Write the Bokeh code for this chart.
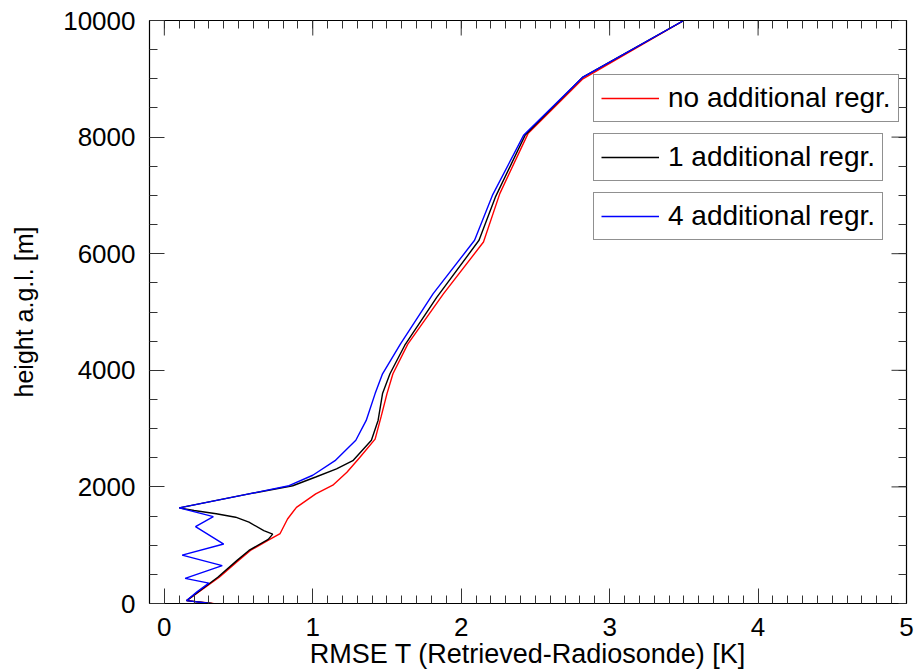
from bokeh.plotting import figure
from bokeh.models import (Range1d, FixedTicker, LinearAxis, Legend, LegendItem)
from bokeh.embed import file_html
from bokeh.resources import INLINE

# ---- data ----
red_x = [0.33, 0.15, 0.37, 0.50, 0.58, 0.71, 0.78, 0.83, 0.89, 1.02, 1.135, 1.23, 1.315,
         1.42, 1.46, 1.50, 1.54, 1.64, 1.88, 2.15, 2.26, 2.45, 2.82, 3.50]
red_h = [0, 50, 450, 740, 910, 1100, 1200, 1450, 1650, 1880, 2030, 2250, 2500,
         2820, 3200, 3600, 3940, 4450, 5310, 6200, 7030, 8060, 9000, 10000]

black_x = [0.32, 0.15, 0.36, 0.49, 0.57, 0.70, 0.73, 0.67, 0.57, 0.48, 0.35, 0.20, 0.10,
           0.57, 0.865, 1.02, 1.16, 1.27, 1.395, 1.44, 1.47, 1.52, 1.62, 1.835, 2.12,
           2.23, 2.43, 2.82, 3.50]
black_h = [0, 50, 450, 740, 910, 1100, 1190, 1250, 1395, 1480, 1540, 1595, 1640,
           1880, 2020, 2170, 2310, 2450, 2800, 3140, 3600, 3940, 4430, 5250, 6230,
           6970, 8030, 9030, 10000]

blue_x = [0.31, 0.15, 0.22, 0.30, 0.14, 0.39, 0.12, 0.40, 0.21, 0.33, 0.10, 0.57, 0.84,
          1.00, 1.15, 1.29, 1.36, 1.42, 1.47, 1.59, 1.81, 2.09, 2.21, 2.42, 2.82, 3.50]
blue_h = [0, 50, 200, 350, 430, 650, 830, 1020, 1320, 1490, 1640, 1880, 2020,
          2200, 2450, 2800, 3140, 3600, 3940, 4450, 5310, 6230, 7000, 8030, 9030, 10000]

labels = ["no additional regr.", "1 additional regr.", "4 additional regr."]
colors = ["#ff0000", "#000000", "#0000ff"]

x_major = [0, 1, 2, 3, 4, 5]
y_major = [0, 2000, 4000, 6000, 8000, 10000]

FONT = "Liberation Sans"
X0, X1, Y0, Y1 = -0.1, 5.0, 0, 10000
W, H = 916, 671
BL, BR, BT, BB = 149, 10, 20, 68

p = figure(width=W, height=H, output_backend="svg", toolbar_location=None,
           x_range=Range1d(X0, X1), y_range=Range1d(Y0, Y1),
           min_border_left=BL, min_border_right=BR, min_border_top=BT,
           min_border_bottom=BB)
p.outline_line_color = "black"
p.outline_line_width = 1.2
p.xgrid.visible = False
p.ygrid.visible = False
p.background_fill_color = "white"
p.border_fill_color = "white"

x_minor = [round(-0.1 + 0.1 * i, 2) for i in range(52)]
y_minor = [500 * i for i in range(21)]
xt = FixedTicker(ticks=x_major, minor_ticks=x_minor)
yt = FixedTicker(ticks=y_major, minor_ticks=y_minor)

def style(ax):
    ax.major_tick_in = 15
    ax.major_tick_out = 0
    ax.minor_tick_in = 8
    ax.minor_tick_out = 0
    ax.axis_line_color = "black"
    ax.major_tick_line_color = "#333333"
    ax.minor_tick_line_color = "#333333"
    ax.major_label_text_font = FONT
    ax.major_label_text_font_size = "26px"
    ax.major_label_text_color = "black"
    ax.axis_label_text_font = FONT
    ax.axis_label_text_font_style = "normal"
    ax.axis_label_text_color = "black"

p.xaxis.ticker = xt
p.yaxis.ticker = yt
style(p.xaxis[0])
style(p.yaxis[0])
p.xaxis.axis_label = "RMSE T (Retrieved-Radiosonde) [K]"
p.yaxis.axis_label = "height a.g.l. [m]"
p.xaxis.axis_label_text_font_size = "27px"
p.yaxis.axis_label_text_font_size = "25px"
p.xaxis.major_label_standoff = 14
p.yaxis.major_label_standoff = 14
p.yaxis.axis_label_standoff = 22
p.xaxis.axis_label_standoff = 0

# mirrored axes on top/right: tick marks only (no labels)
top = LinearAxis(ticker=FixedTicker(ticks=[], minor_ticks=x_minor))
right = LinearAxis(ticker=FixedTicker(ticks=[], minor_ticks=y_minor))
for ax in (top, right):
    style(ax)
    ax.major_label_standoff = 0
p.add_layout(top, "above")
p.add_layout(right, "right")

# longer inward major ticks on the mirrored sides
fw = W - BL - BR
fh = H - BT - BB
dx = 15 * (X1 - X0) / fw
dy = 15 * (Y1 - Y0) / fh
p.segment(x0=x_major, x1=x_major, y0=[Y1] * len(x_major), y1=[Y1 - dy] * len(x_major),
          line_color="#333333", line_width=1)
p.segment(x0=[X1] * len(y_major), x1=[X1 - dx] * len(y_major), y0=y_major, y1=y_major,
          line_color="#333333", line_width=1)

r_red = p.line(red_x, red_h, line_color=colors[0], line_width=1.4)
r_black = p.line(black_x, black_h, line_color=colors[1], line_width=1.4)
r_blue = p.line(blue_x, blue_h, line_color=colors[2], line_width=1.4)

for i, (lab, r) in enumerate(zip(labels, [r_red, r_black, r_blue])):
    lg = Legend(items=[LegendItem(label=lab, renderers=[r])],
                location=(444, 481 - 59 * i))
    lg.label_text_font = FONT
    lg.label_text_font_size = "28px"
    lg.label_text_color = "black"
    lg.glyph_width = 58
    lg.glyph_height = 20
    lg.label_standoff = 9
    lg.padding = 7
    lg.margin = 0
    lg.spacing = 0
    lg.border_line_color = "#222222"
    lg.border_line_width = 1.2
    lg.background_fill_alpha = 1
    p.add_layout(lg, "center")

open("out.html", "w").write(file_html(p, INLINE))
